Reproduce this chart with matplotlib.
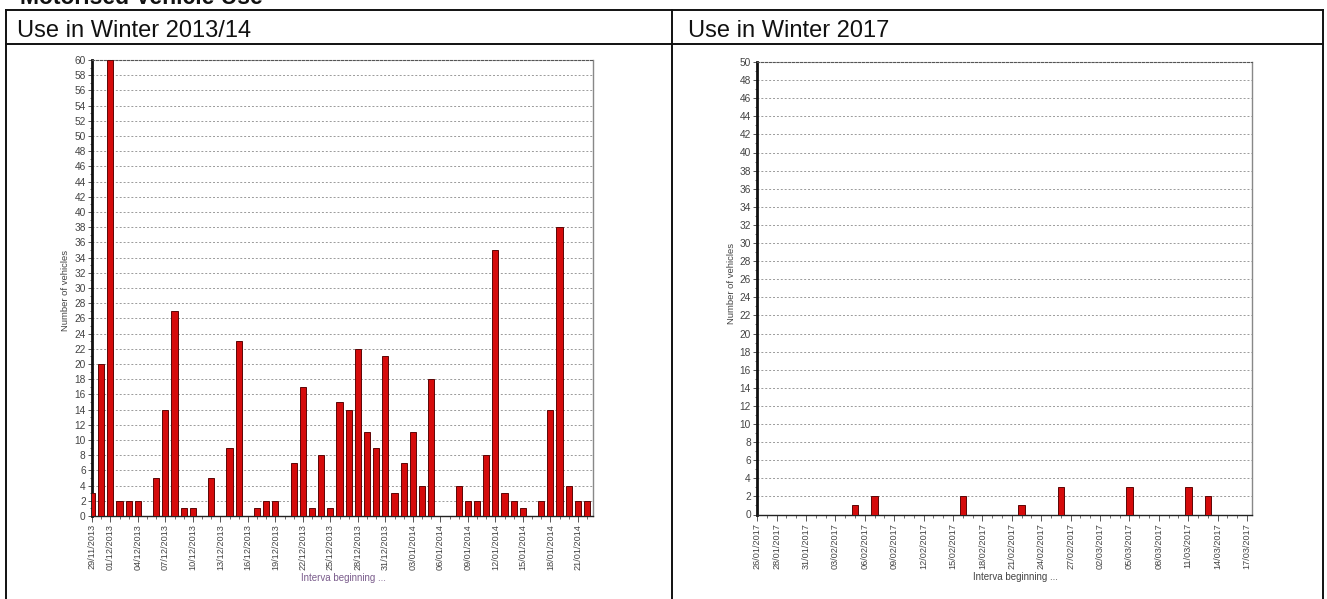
import matplotlib
matplotlib.use("Agg")
import matplotlib.pyplot as plt
from matplotlib.lines import Line2D
import numpy as np
import pandas as pd

plt.rcParams['font.family'] = ['Liberation Sans', 'DejaVu Sans']

# ---------------- data ----------------
title_text = "Motorised Vehicle Use"
header_left = "Use in Winter 2013/14"
header_right = "Use in Winter 2017"
ylabel_text = "Number of vehicles"
xlabel_text = "Interva beginning ..."

start_2013 = "2013-11-29"
values_2013 = [3, 20, 60, 2, 2, 2, 0, 5, 14, 27, 1, 1, 0, 5, 0, 9, 23, 0, 1, 2,
               2, 0, 7, 17, 1, 8, 1, 15, 14, 22, 11, 9, 21, 3, 7, 11, 4, 18, 0, 0,
               4, 2, 2, 8, 35, 3, 2, 1, 0, 2, 14, 38, 4, 2, 2]
ticklabels_2013 = ["29/11/2013", "01/12/2013", "04/12/2013", "07/12/2013", "10/12/2013",
                   "13/12/2013", "16/12/2013", "19/12/2013", "22/12/2013", "25/12/2013",
                   "28/12/2013", "31/12/2013", "03/01/2014", "06/01/2014", "09/01/2014",
                   "12/01/2014", "15/01/2014", "18/01/2014", "21/01/2014"]

start_2017 = "2017-01-26"
values_2017 = [0, 0, 0, 0, 0, 0, 0, 0, 0, 0, 1, 0, 2, 0, 0, 0, 0, 0, 0, 0,
               0, 2, 0, 0, 0, 0, 0, 1, 0, 0, 0, 3, 0, 0, 0, 0, 0, 0, 3, 0,
               0, 0, 0, 0, 3, 0, 2, 0, 0, 0, 0]
ticklabels_2017 = ["26/01/2017", "28/01/2017", "31/01/2017", "03/02/2017", "06/02/2017",
                   "09/02/2017", "12/02/2017", "15/02/2017", "18/02/2017", "21/02/2017",
                   "24/02/2017", "27/02/2017", "02/03/2017", "05/03/2017", "08/03/2017",
                   "11/03/2017", "14/03/2017", "17/03/2017"]

W, H = 1327, 599
fig = plt.figure(figsize=(W / 100, H / 100), dpi=100)
fig.patch.set_facecolor('white')


def fx(px):
    return px / W


def fy(py):
    return 1 - py / H


# ---------------- table frame ----------------
lc = '#111111'
for (x0, y0, x1, y1) in [(6, 10, 1323, 10), (6, 44, 1323, 44), (6, 10, 6, 599),
                         (672.5, 10, 672.5, 599), (1323, 10, 1323, 599)]:
    fig.add_artist(Line2D([fx(x0), fx(x1)], [fy(y0), fy(y1)], color=lc, lw=1.4))

fig.text(fx(20), fy(4), title_text, fontsize=16.5, fontweight='bold',
         ha='left', va='baseline', color='#111111')
fig.text(fx(17), fy(37), header_left, fontsize=17, ha='left', va='baseline', color='#111111')
fig.text(fx(688), fy(37), header_right, fontsize=17, ha='left', va='baseline', color='#111111')


def draw_chart(rect, start, values, ticklabels, ymax, xmax, ylab_pos, xlab_pos, xlab_color):
    ax = fig.add_axes(rect)
    dates = pd.date_range(start, periods=len(values), freq='D')
    labels_all = [d.strftime('%d/%m/%Y') for d in dates]
    x = np.arange(len(values))
    ax.bar(x, values, width=0.68, color='#d50b0b', edgecolor='#5c0606', linewidth=0.7, zorder=3)
    ax.set_xlim(0, xmax)
    ax.set_ylim(0, ymax)
    ax.set_yticks(np.arange(0, ymax + 1, 2))
    ax.set_yticks(np.arange(0, ymax + 1, 1), minor=True)
    tick_pos = [labels_all.index(t) for t in ticklabels]
    ax.set_xticks(tick_pos)
    ax.set_xticklabels(ticklabels, rotation=90, fontsize=6.6, color='#444444')
    ax.set_xticks(x, minor=True)
    ax.tick_params(axis='y', which='major', labelsize=7.3, labelcolor='#444444',
                   length=3, width=0.7, color='#555555', pad=1.5)
    ax.tick_params(axis='y', which='minor', length=1.5, width=0.6, color='#555555')
    ax.tick_params(axis='x', which='major', length=4, width=0.7, color='#555555', pad=2)
    ax.tick_params(axis='x', which='minor', length=2.5, width=0.6, color='#555555')
    ax.grid(axis='y', which='major', color='#9a9a9a', linestyle=(0, (2, 2)), linewidth=0.7, zorder=0)
    ax.set_axisbelow(True)
    ax.spines['left'].set_linewidth(2.0)
    ax.spines['left'].set_color('#111111')
    ax.spines['bottom'].set_linewidth(1.0)
    ax.spines['bottom'].set_color('#222222')
    ax.spines['top'].set_linestyle((0, (2, 1.5)))
    ax.spines['top'].set_color('#555555')
    ax.spines['top'].set_linewidth(0.8)
    ax.spines['right'].set_color('#888888')
    ax.spines['right'].set_linewidth(1.0)
    fig.text(fx(ylab_pos[0]), fy(ylab_pos[1]), ylabel_text, rotation=90, fontsize=6.8,
             color='#444444', ha='center', va='center')
    fig.text(fx(xlab_pos[0]), fy(xlab_pos[1]), xlabel_text, fontsize=7,
             color=xlab_color, ha='center', va='center')
    return ax


draw_chart([fx(92), fy(516), fx(593) - fx(92), fy(60) - fy(516)],
           start_2013, values_2013, ticklabels_2013, 60, 54.65,
           (65, 290), (343, 578), '#7a5c8c')
draw_chart([fx(757), fy(514.5), fx(1252) - fx(757), fy(62) - fy(514.5)],
           start_2017, values_2017, ticklabels_2017, 50, 50.5,
           (732, 283), (1015, 577), '#444444')

fig.savefig('out.png', dpi=100, facecolor='white')
